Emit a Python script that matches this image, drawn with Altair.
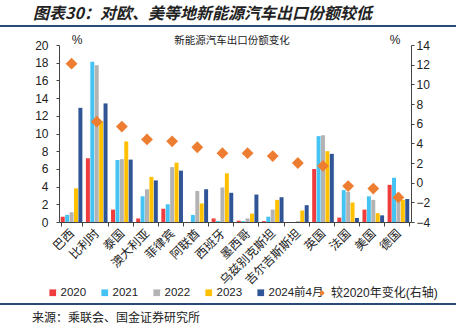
import altair as alt
import pandas as pd

categories = ["巴西", "比利时", "泰国", "澳大利亚", "菲律宾", "阿联酋", "西班牙", "墨西哥",
              "乌兹别克斯坦", "吉尔吉斯斯坦", "英国", "法国", "美国", "德国"]
years = ["2020", "2021", "2022", "2023", "2024前4月"]
v2020 = [0.6, 7.2, 1.4, 0.4, 1.5, 0.0, 0.4, 0.15, 0.1, 0.0, 6.0, 0.5, 1.4, 4.2]
v2021 = [0.8, 18.1, 7.0, 2.9, 2.0, 0.8, 0.1, 0.1, 0.6, 0.0, 9.7, 3.6, 2.9, 5.0]
v2022 = [1.1, 17.7, 7.1, 3.7, 6.2, 3.5, 3.9, 0.4, 1.4, 0.1, 9.8, 3.4, 2.5, 2.6]
v2023 = [3.8, 11.4, 9.1, 5.1, 6.7, 2.1, 5.5, 0.95, 2.5, 1.3, 8.0, 2.2, 1.0, 2.5]
v2024 = [12.9, 13.4, 7.05, 4.7, 5.8, 3.7, 3.3, 3.1, 2.8, 1.9, 7.7, 0.45, 0.75, 2.6]
change = [12.1, 6.2, 5.7, 4.4, 4.2, 3.6, 3.0, 3.0, 2.7, 2.0, 1.7, -0.35, -0.6, -1.5]
series_name = "较2020年变化(右轴)"

title_text = "图表30：对欧、美等地新能源汽车出口份额较低"
subtitle_text = "新能源汽车出口份额变化"
source_text = "来源：乘联会、国金证券研究所"

bar_colors = ["#F03C3C", "#45C3F2", "#B3B3B3", "#FFC000", "#2F5597"]
diamond_color = "#ED7D31"
line_color = "#274A78"

FONT = "Liberation Sans, Noto Sans CJK SC"
CJK = "Noto Sans CJK SC"

rows = []
for yr, vals in zip(years, [v2020, v2021, v2022, v2023, v2024]):
    for c, v in zip(categories, vals):
        rows.append({"cat": c, "year": yr, "value": v})
bars_df = pd.DataFrame(rows)
chg_df = pd.DataFrame({"cat": categories, "change": change, "series": [series_name] * len(categories)})

x_enc = alt.X(
    "cat:N", sort=categories,
    scale=alt.Scale(paddingInner=0.14, paddingOuter=0.07),
    axis=alt.Axis(title=None, labelAngle=-45, labelAlign="right", labelBaseline="middle",
                  labelFontSize=12, labelFont=CJK, labelColor="#222",
                  tickBand="extent", tickSize=4, labelPadding=5, domainColor="#444", tickColor="#444"),
)

bars = alt.Chart(bars_df).mark_bar().encode(
    x=x_enc,
    xOffset=alt.XOffset("year:N", sort=years, scale=alt.Scale(paddingInner=0.1)),
    y=alt.Y("value:Q", scale=alt.Scale(domain=[0, 20], nice=False),
            axis=alt.Axis(title=None, values=list(range(0, 21, 2)), grid=False, tickSize=3,
                          labelPadding=8, labelFontSize=12, labelFont=FONT, labelColor="#222",
                          domainColor="#444", tickColor="#444")),
    color=alt.Color("year:N", sort=years, scale=alt.Scale(domain=years, range=bar_colors),
                    legend=alt.Legend(title=None, orient="none", direction="horizontal",
                                      legendX=-12, legendY=242, symbolType="square", symbolSize=45,
                                      labelFontSize=11.5, labelFont=FONT, labelColor="#222",
                                      gridAlign="none", columnPadding=12, labelOffset=2,
                                      symbolStrokeWidth=0)),
)

points = alt.Chart(chg_df).mark_point(shape="diamond", filled=True, size=140, opacity=1,
                                      color=diamond_color).encode(
    x=x_enc,
    y=alt.Y("change:Q", scale=alt.Scale(domain=[-4, 14], nice=False),
            axis=alt.Axis(title=None, orient="right", values=list(range(-4, 15, 2)), grid=False,
                          tickSize=3, labelPadding=2, labelFontSize=12, labelFont=FONT,
                          labelColor="#222", domainColor="#444", tickColor="#444")),
    shape=alt.Shape("series:N", scale=alt.Scale(domain=[series_name], range=["diamond"]),
                    legend=alt.Legend(title=None, orient="none", direction="horizontal",
                                      legendX=257, legendY=242, symbolSize=30, labelOffset=3,
                                      symbolFillColor=diamond_color, symbolStrokeWidth=0,
                                      labelFontSize=12, labelFont=FONT, labelColor="#222")),
)

one = alt.Data(values=[{}])


def txt(text, x, y, size, font=FONT, **kw):
    return alt.Chart(one).mark_text(text=text, fontSize=size, font=font, color="#222", **kw).encode(
        x=alt.value(x), y=alt.value(y))


title = txt(title_text, -26, -31, 16, font=CJK, align="left", fontWeight="bold", fontStyle="italic")
subtitle = txt(subtitle_text, 173, -4, 10.5, font=CJK, align="center")
pct_l = txt("%", 18, -5, 12, align="center")
pct_r = txt("%", 336, -5, 12, align="center")
source = txt(source_text, -27, 273, 12, font=CJK, align="left")

rule_top = alt.Chart(one).mark_rule(color=line_color, strokeWidth=2).encode(
    x=alt.value(-59), x2=alt.value(397), y=alt.value(-19))
rule_bot = alt.Chart(one).mark_rule(color=line_color, strokeWidth=2).encode(
    x=alt.value(-59), x2=alt.value(397), y=alt.value(259))

chart = alt.layer(bars, points, title, subtitle, pct_l, pct_r, source, rule_top, rule_bot).resolve_scale(
    y="independent"
).properties(
    width=352, height=177,
    autosize=alt.AutoSizeParams(type="none"),
    padding={"left": 59, "top": 45, "right": 45, "bottom": 108},
).configure_view(stroke=None)

chart.save("out.html", embed_options={"renderer": "svg", "actions": False})
